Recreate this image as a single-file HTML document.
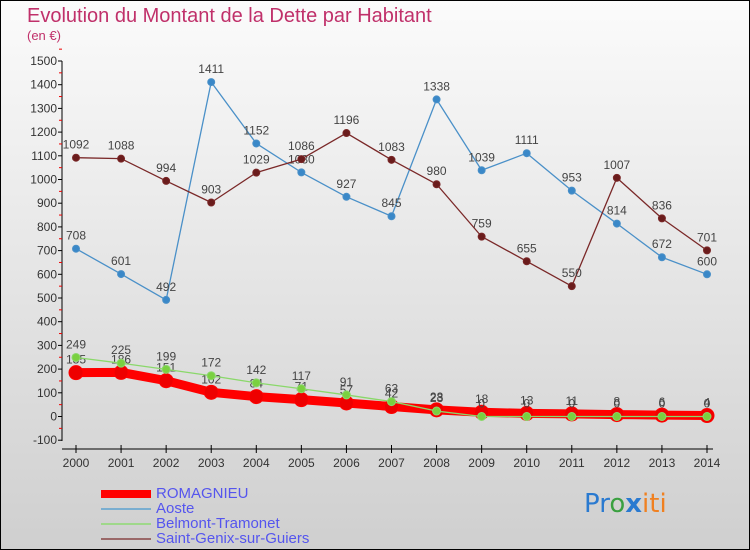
<!DOCTYPE html>
<html><head><meta charset="utf-8"><style>
body{margin:0;}
#c{position:relative;width:748px;height:548px;border:1px solid #000;background:linear-gradient(#fbfbfb,#cfcfcf);overflow:hidden;font-family:"Liberation Sans",sans-serif;}
.t{position:absolute;color:#c0306a;}
.lg{position:absolute;left:155px;font-size:15px;color:#5555ee;line-height:15px;}
.sw{position:absolute;left:100px;width:50px;}
</style></head><body>
<div id="c">
<div class="t" style="left:26px;top:4px;font-size:20px;">Evolution du Montant de la Dette par Habitant</div>
<div class="t" style="left:26px;top:27px;font-size:13px;">(en €)</div>
<svg id="s" width="748" height="548" style="position:absolute;left:0;top:0"></svg>
<div class="sw" style="top:489px;height:8px;background:#f00"></div>
<div class="lg" style="top:485px">ROMAGNIEU</div>
<div class="sw" style="top:507px;height:2px;background:#7aaed0"></div>
<div class="lg" style="top:500px">Aoste</div>
<div class="sw" style="top:522px;height:2px;background:#9fd88a"></div>
<div class="lg" style="top:515px">Belmont-Tramonet</div>
<div class="sw" style="top:537px;height:2px;background:#9a6868"></div>
<div class="lg" style="top:530px">Saint-Genix-sur-Guiers</div>
<div style="position:absolute;left:583px;top:488px;font-size:26px;font-family:'DejaVu Sans',sans-serif;"><span style="color:#2a7ad0">Pr</span><span style="color:#3aa040">o</span><span style="color:#2a7ad0;font-weight:bold">x</span><span style="color:#f08020">iti</span></div>
</div>
<script>
const years=[2000,2001,2002,2003,2004,2005,2006,2007,2008,2009,2010,2011,2012,2013,2014];
const yTicks=[-100,0,100,200,300,400,500,600,700,800,900,1000,1100,1200,1300,1400,1500];
const romagnieu=[185,186,151,102,84,71,57,42,28,18,13,11,8,6,4];
const aoste=[708,601,492,1411,1152,1030,927,845,1338,1039,1111,953,814,672,600];
const belmont=[249,225,199,172,142,117,91,63,23,0,0,0,0,0,0];
const saintGenix=[1092,1088,994,903,1029,1086,1196,1083,980,759,655,550,1007,836,701];
const NS="http://www.w3.org/2000/svg",s=document.getElementById('s');
const X=i=>75+i*(706-75)/14, Y=v=>415.5-v*0.237;
function el(t,a,p){const e=document.createElementNS(NS,t);for(const k in a)e.setAttribute(k,a[k]);(p||s).appendChild(e);return e;}
let ax=el('line',{x1:61,y1:60,x2:61,y2:440,stroke:'#000'});

yTicks.forEach(v=>{el('line',{x1:57,x2:61,y1:Y(v),y2:Y(v),stroke:'#000'});
el('line',{x1:58,x2:61,y1:Y(v+50),y2:Y(v+50),stroke:'#e00'});
const t=el('text',{x:56,y:Y(v)+4,'text-anchor':'end','font-size':12,fill:'#333'});t.textContent=v;
});
let xa=el('line',{x1:61,y1:448,x2:712,y2:448,stroke:'#000'});

years.forEach((y,i)=>{el('line',{x1:X(i),x2:X(i),y1:444,y2:452,stroke:'#000'});
const t=el('text',{x:X(i),y:466,'text-anchor':'middle','font-size':12,fill:'#333'});t.textContent=y;
});
function series(d,col,w,r,fill,name){
const g=el('g',{});
el('polyline',{points:d.map((v,i)=>X(i)+','+Y(v)).join(' '),fill:'none',stroke:col,'stroke-width':w,'stroke-linejoin':'round'},g);
d.forEach((v,i)=>{const c=el('circle',{cx:X(i),cy:Y(v),r:r,fill:fill,stroke:col,'stroke-width':1},g);

const t=el('text',{x:X(i),y:Y(v)-9,'text-anchor':'middle','font-size':12,fill:'#444'},g);t.textContent=v;});}
series(aoste,'#4a90c8',1.3,3.5,'#3a88c8','aoste');
series(saintGenix,'#7a2828',1.3,3.5,'#6a1c1c','saint-genix');
series(romagnieu,'#f00',9,7,'#e00','romagnieu');
series(belmont,'#8ad86a',1.3,4,'#7ad040','belmont');
</script>
</body></html>
